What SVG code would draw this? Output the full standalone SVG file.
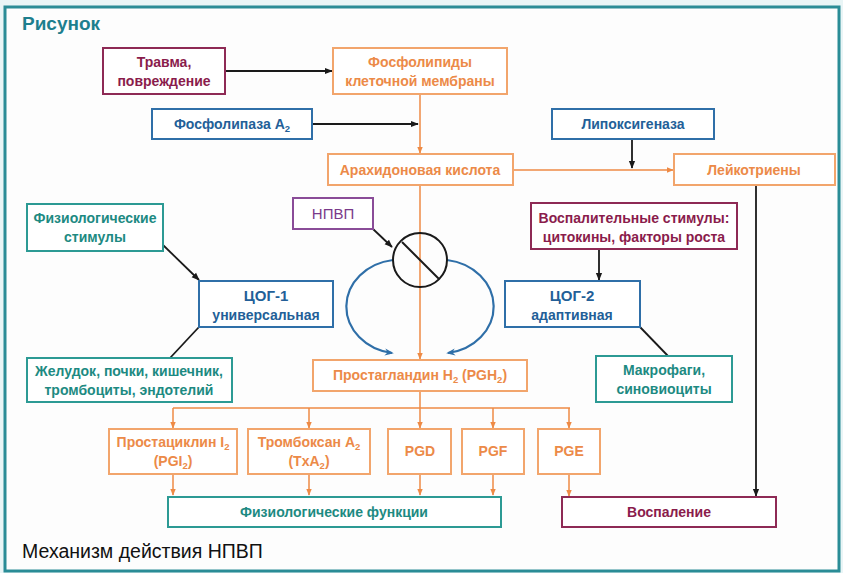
<svg xmlns="http://www.w3.org/2000/svg" width="843" height="573" viewBox="0 0 843 573">
<defs>
<marker id="ab" viewBox="0 0 10 10" refX="9" refY="5" markerWidth="8" markerHeight="8" markerUnits="userSpaceOnUse" orient="auto"><path d="M0,1 L10,5 L0,9 z" fill="#1a1a1a"/></marker>
<marker id="ao" viewBox="0 0 10 10" refX="9" refY="5" markerWidth="7" markerHeight="7" markerUnits="userSpaceOnUse" orient="auto"><path d="M0,1 L10,5 L0,9 z" fill="#ee8a45"/></marker>
<marker id="abl" viewBox="0 0 10 10" refX="8" refY="5" markerWidth="9" markerHeight="9" markerUnits="userSpaceOnUse" orient="auto"><path d="M0,1 L10,5 L0,9 L3,5 z" fill="#2f6fa8"/></marker>
</defs>
<style>
text{font-family:"Liberation Sans",Arial,sans-serif;font-size:14px;font-weight:bold;text-anchor:middle}
rect.n{fill:#ffffff;stroke-width:2}
.mar rect{stroke:#8e2a55}.mar text{fill:#8a1c4c}
.org rect{stroke:#f2a56c}.org text{fill:#ec8a48}
.blu rect{stroke:#2f6fa8}.blu text{fill:#235f98}
.tea rect{stroke:#2c9a94}.tea text{fill:#1d8a82}
.pur rect{stroke:#8a4c98}.pur text{fill:#7a3a8a;font-weight:normal}
.k{stroke:#1a1a1a;stroke-width:1.8;fill:none}
.o{stroke:#ee8a45;stroke-width:1.5;fill:none}
.b{stroke:#2f6fa8;stroke-width:2.2;fill:none}
</style>
<rect x="0" y="0" width="843" height="573" fill="#e9f5f6"/>
<rect x="5" y="7" width="834" height="564" fill="#fdfdfd" stroke="#2a8c96" stroke-width="3"/>
<text x="22" y="30" style="font-size:19px;font-weight:900;fill:#1d7f8e;text-anchor:start">Рисунок</text>
<text x="22" y="558" style="font-size:19.5px;font-weight:normal;fill:#111;text-anchor:start">Механизм действия НПВП</text>

<g id="connectors">
<line class="k" x1="225" y1="71" x2="332" y2="71" marker-end="url(#ab)"/>
<line class="k" x1="312" y1="124" x2="418" y2="124" marker-end="url(#ab)"/>
<line class="o" x1="420" y1="94" x2="420" y2="153" marker-end="url(#ao)"/>
<line class="o" x1="420" y1="185" x2="420" y2="359" marker-end="url(#ao)"/>
<line class="o" x1="513" y1="170" x2="673" y2="170" marker-end="url(#ao)"/>
<line class="k" x1="632" y1="139" x2="632" y2="168" marker-end="url(#ab)"/>
<line class="k" x1="756" y1="185" x2="756" y2="496" marker-end="url(#ab)"/>
<line class="k" x1="373" y1="229" x2="392" y2="247" marker-end="url(#ab)"/>
<line class="k" x1="163" y1="245" x2="199" y2="280" marker-end="url(#ab)"/>
<line class="k" x1="199" y1="327" x2="170" y2="358"/>
<line class="k" x1="599" y1="249" x2="599" y2="280" marker-end="url(#ab)"/>
<line class="k" x1="640" y1="327" x2="668" y2="356"/>
<path class="b" d="M393,260 A54,47 0 0 0 392,353" marker-end="url(#abl)"/>
<path class="b" d="M447,260 A54,47 0 0 1 448,353" marker-end="url(#abl)"/>
<line class="o" x1="420" y1="391" x2="420" y2="408"/>
<line class="o" x1="173" y1="408" x2="570" y2="408"/>
<line class="o" x1="173" y1="408" x2="173" y2="428" marker-end="url(#ao)"/>
<line class="o" x1="309" y1="408" x2="309" y2="428" marker-end="url(#ao)"/>
<line class="o" x1="420" y1="408" x2="420" y2="428" marker-end="url(#ao)"/>
<line class="o" x1="493" y1="408" x2="493" y2="428" marker-end="url(#ao)"/>
<line class="o" x1="569" y1="408" x2="569" y2="428" marker-end="url(#ao)"/>
<line class="o" x1="173" y1="474" x2="173" y2="495" marker-end="url(#ao)"/>
<line class="o" x1="309" y1="474" x2="309" y2="495" marker-end="url(#ao)"/>
<line class="o" x1="420" y1="474" x2="420" y2="495" marker-end="url(#ao)"/>
<line class="o" x1="493" y1="474" x2="493" y2="495" marker-end="url(#ao)"/>
<line class="o" x1="569" y1="474" x2="569" y2="496" marker-end="url(#ao)"/>
</g>

<g id="inhibit">
<circle cx="420" cy="260" r="27" fill="none" stroke="#1a1a1a" stroke-width="2"/>
<line x1="402" y1="242" x2="439" y2="279" stroke="#1a1a1a" stroke-width="2"/>
</g>

<g id="trauma" class="mar"><rect class="n" x="103" y="48" width="122" height="46"/><text x="164" y="67">Травма,</text><text x="164" y="86">повреждение</text></g>
<g id="phospholipids" class="org"><rect class="n" x="333" y="48" width="174" height="46"/><text x="420" y="67">Фосфолипиды</text><text x="420" y="86">клеточной мембраны</text></g>
<g id="pla2" class="blu"><rect class="n" x="152" y="109" width="160" height="30"/><text x="232" y="129">Фосфолипаза А<tspan font-size="9.5" dy="3">2</tspan></text></g>
<g id="arachidonic" class="org"><rect class="n" x="328" y="154" width="185" height="31"/><text x="420" y="175">Арахидоновая кислота</text></g>
<g id="lipoxygenase" class="blu"><rect class="n" x="552" y="109" width="162" height="30"/><text x="633" y="129">Липоксигеназа</text></g>
<g id="leukotrienes" class="org"><rect class="n" x="674" y="154" width="161" height="31"/><text x="754" y="175">Лейкотриены</text></g>
<g id="nsaid" class="pur"><rect class="n" x="293" y="198" width="80" height="31"/><text x="333" y="219" style="font-size:15px">НПВП</text></g>
<g id="phys-stimuli" class="tea"><rect class="n" x="27" y="204" width="136" height="47"/><text x="95" y="223">Физиологические</text><text x="95" y="242">стимулы</text></g>
<g id="cox1" class="blu"><rect class="n" x="199" y="281" width="134" height="46"/><text x="266" y="301" style="font-size:15px">ЦОГ-1</text><text x="266" y="320">универсальная</text></g>
<g id="stomach" class="tea"><rect class="n" x="27" y="358" width="205" height="44"/><text x="129" y="376">Желудок, почки, кишечник,</text><text x="129" y="395">тромбоциты, эндотелий</text></g>
<g id="infl-stimuli" class="mar"><rect class="n" x="531" y="203" width="206" height="46"/><text x="634" y="223">Воспалительные стимулы:</text><text x="634" y="242">цитокины, факторы роста</text></g>
<g id="cox2" class="blu"><rect class="n" x="505" y="281" width="135" height="46"/><text x="572" y="301" style="font-size:15px">ЦОГ-2</text><text x="572" y="320">адаптивная</text></g>
<g id="macrophages" class="tea"><rect class="n" x="596" y="356" width="136" height="46"/><text x="664" y="375">Макрофаги,</text><text x="664" y="394">синовиоциты</text></g>
<g id="pgh2" class="org"><rect class="n" x="313" y="360" width="214" height="31"/><text x="420" y="380">Простагландин H<tspan font-size="9.5" dy="3">2</tspan><tspan dy="-3"> (PGH</tspan><tspan font-size="9.5" dy="3">2</tspan><tspan dy="-3">)</tspan></text></g>
<g id="pgi2" class="org"><rect class="n" x="109" y="429" width="128" height="45"/><text x="173" y="447">Простациклин I<tspan font-size="9.5" dy="3">2</tspan></text><text x="173" y="466">(PGI<tspan font-size="9.5" dy="3">2</tspan><tspan dy="-3">)</tspan></text></g>
<g id="txa2" class="org"><rect class="n" x="248" y="429" width="122" height="45"/><text x="309" y="447">Тромбоксан А<tspan font-size="9.5" dy="3">2</tspan></text><text x="309" y="466">(TxA<tspan font-size="9.5" dy="3">2</tspan><tspan dy="-3">)</tspan></text></g>
<g id="pgd" class="org"><rect class="n" x="388" y="429" width="63" height="45"/><text x="420" y="456">PGD</text></g>
<g id="pgf" class="org"><rect class="n" x="462" y="429" width="62" height="45"/><text x="493" y="456">PGF</text></g>
<g id="pge" class="org"><rect class="n" x="538" y="429" width="62" height="45"/><text x="569" y="456">PGE</text></g>
<g id="phys-functions" class="tea"><rect class="n" x="168" y="497" width="333" height="30"/><text x="334" y="517">Физиологические функции</text></g>
<g id="inflammation" class="mar"><rect class="n" x="562" y="497" width="214" height="30"/><text x="669" y="517">Воспаление</text></g>
</svg>
